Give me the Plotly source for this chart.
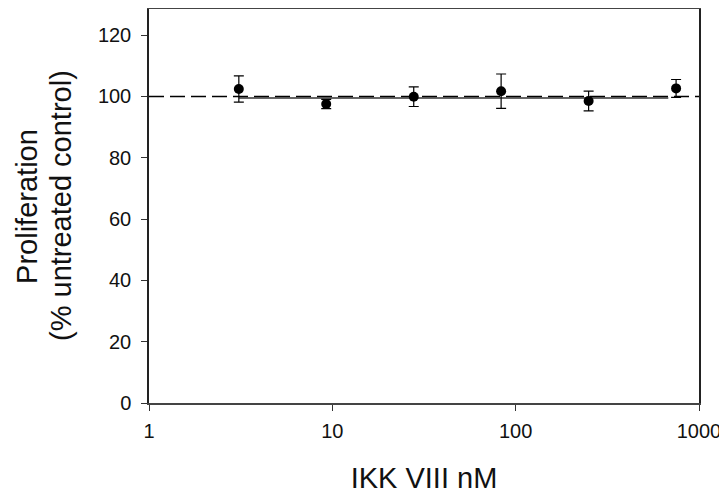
import plotly.graph_objects as go

# Data
conc_nM = [3.09, 9.26, 27.8, 83.3, 250, 750]
prolif = [102.4, 97.5, 99.9, 101.7, 98.5, 102.6]
prolif_err = [4.3, 1.5, 3.2, 5.6, 3.2, 2.9]
fit_x = [3.09, 680]
fit_y = [99.5, 99.5]
ref_x = [1, 1000]
ref_y = [100, 100]
x_ticks = [1, 10, 100, 1000]
x_ticklabels = ["1", "10", "100", "1000"]
y_ticks = [0, 20, 40, 60, 80, 100, 120]
y_title_lines = ["Proliferation", "(% untreated control)"]

FONT = "Liberation Sans, Arial, sans-serif"

fig = go.Figure()

fig.add_trace(go.Scatter(
    x=ref_x, y=ref_y, mode="lines",
    line=dict(color="black", width=1.5, dash="15px,6px"),
    showlegend=False, hoverinfo="skip"))

fig.add_trace(go.Scatter(
    x=fit_x, y=fit_y, mode="lines",
    line=dict(color="#333333", width=1.5),
    showlegend=False, hoverinfo="skip"))

fig.add_trace(go.Scatter(
    x=conc_nM, y=prolif, mode="markers",
    marker=dict(color="black", size=10, symbol="circle"),
    error_y=dict(type="data", array=prolif_err, visible=True,
                 color="black", thickness=1.2, width=5),
    showlegend=False))

# y-axis title as two rotated lines (to match the reference line spacing)
for txt, xp in zip(y_title_lines, [-0.222, -0.16]):
    fig.add_annotation(
        text=txt, xref="paper", yref="paper", x=xp, y=0.5,
        xanchor="center", yanchor="middle", textangle=-90, showarrow=False,
        font=dict(size=29, family=FONT, color="#111"))

# page body has an 8px margin, so the figure is sized to fill the rest of the window
fig.update_layout(
    width=719, height=491,
    margin=dict(l=141, r=28, t=1, b=96),
    paper_bgcolor="white", plot_bgcolor="white",
    font=dict(family=FONT, color="black"),
    xaxis=dict(
        type="log", range=[0, 3], automargin=False,
        tickvals=x_ticks, ticktext=x_ticklabels,
        ticks="outside", ticklen=6, tickwidth=1.2, tickcolor="#333",
        tickfont=dict(size=20, family=FONT, color="#111"),
        ticklabelstandoff=3,
        showline=True, linecolor="#444", linewidth=1.8, mirror=True,
        showgrid=False, zeroline=False,
        title=dict(text="IKK VIII nM", font=dict(size=29, family=FONT, color="#111"),
                   standoff=27),
    ),
    yaxis=dict(
        range=[0, 128.5], automargin=False,
        tickvals=y_ticks,
        ticks="outside", ticklen=6, tickwidth=1.2, tickcolor="#333",
        tickfont=dict(size=20, family=FONT, color="#111"),
        ticklabelstandoff=6,
        showline=True, linecolor="#222", linewidth=1.5, mirror=True,
        showgrid=False, zeroline=False,
    ),
)

fig.write_html("out.html")
